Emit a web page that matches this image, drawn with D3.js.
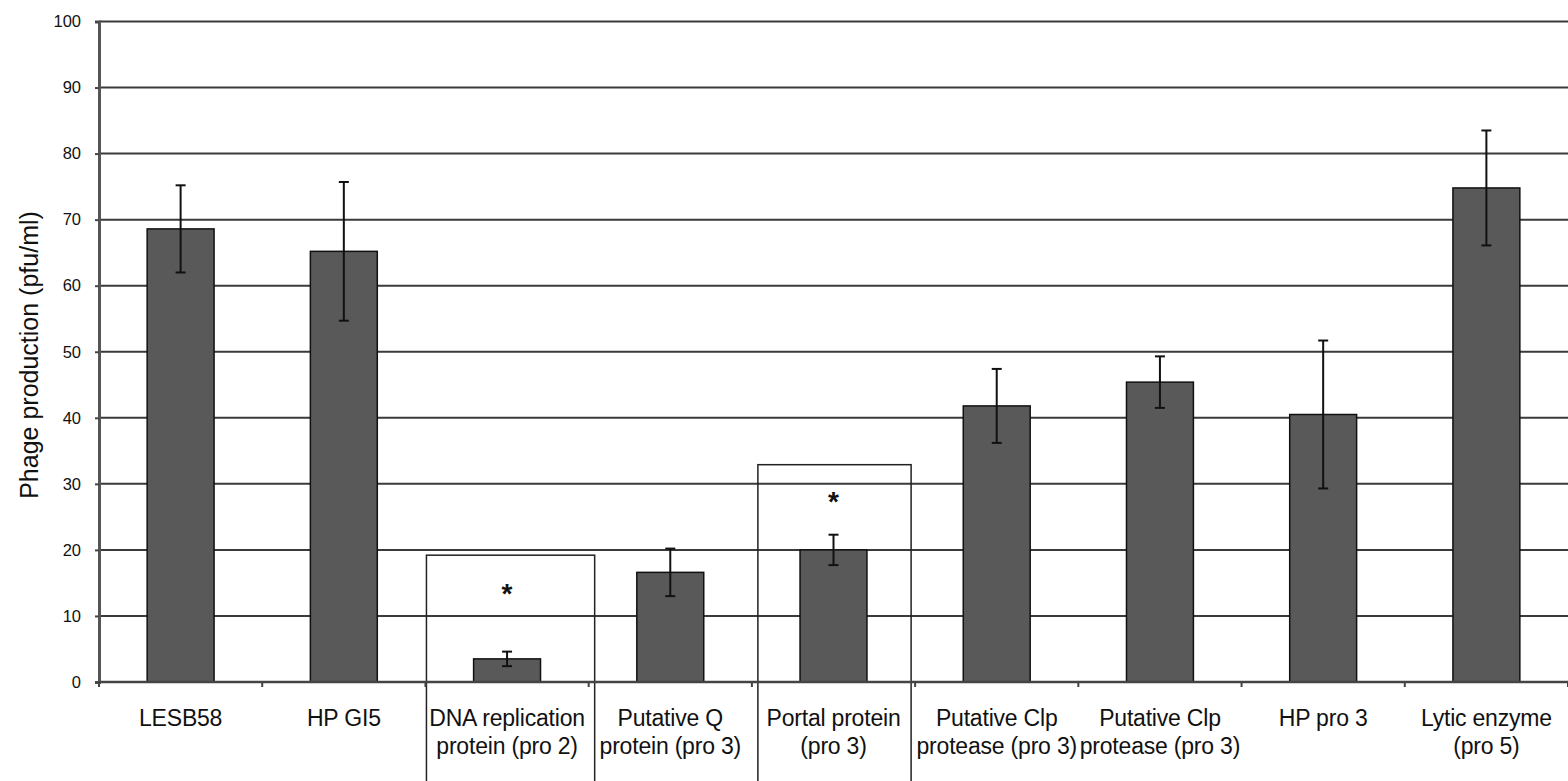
<!DOCTYPE html>
<html lang="en">
    <head>
        <meta charset="utf-8">
        <title>phage production</title>
        <script type="text/javascript" src="https://cdn.jsdelivr.net/npm/d3@7/dist/d3.min.js"></script>
        <style>
            body { margin: 0; background: #fff; }
            text { font-family: "Liberation Sans", Arial, sans-serif; fill: #111; }
        </style>
    </head>
    <body>
        <script type="text/javascript">
            // data
            var categories = ["LESB58", "HP GI5", "DNA replication|protein (pro 2)", "Putative Q|protein (pro 3)",
                              "Portal protein|(pro 3)", "Putative Clp|protease (pro 3)", "Putative Clp|protease (pro 3)",
                              "HP pro 3", "Lytic enzyme|(pro 5)"];
            var values = [68.6, 65.2, 3.5, 16.6, 20.0, 41.8, 45.4, 40.5, 74.8];
            var errors = [6.6, 10.5, 1.1, 3.6, 2.3, 5.6, 3.9, 11.2, 8.7];
            var yticks = [0, 10, 20, 30, 40, 50, 60, 70, 80, 90, 100];
            // significant ones: index, box top value, star value
            var marked = [2, 4];
            var boxTops = [19.2, 32.9];
            var starAt = [14, 27.8];

            var w = 1568;
            var h = 781;
            var margin = {top: 21.5, left: 99, right: 0, bottom: 99};
            var w_domain = w - margin.left - margin.right;
            var h_domain = h - margin.top - margin.bottom;

            var svg = d3.select("body").append("svg")
                .attr("width", w)
                .attr("height", h);
            var g = svg.append("g")
                .attr("transform", "translate(" + margin.left + "," + margin.top + ")");

            var keys = categories.map(function(d, i) { return i; });
            var xscale = d3.scaleBand().domain(keys).range([0, w_domain]).paddingInner(0).paddingOuter(0);
            var yscale = d3.scaleLinear().domain([0, 100]).range([h_domain, 0]);
            var barw = xscale.bandwidth() * 0.41;

            // gridlines
            g.selectAll("line.grid")
                .data(yticks.slice(1))
                .enter().append("line")
                .attr("class", "grid")
                .attr("x1", 0).attr("x2", w_domain)
                .attr("y1", function(d) { return yscale(d); })
                .attr("y2", function(d) { return yscale(d); })
                .attr("stroke", "#3a3a3a")
                .attr("stroke-width", 2);

            // y axis
            var yaxis = d3.axisLeft(yscale).tickValues(yticks).tickSize(4).tickPadding(14);
            var ya = g.append("g").call(yaxis);
            ya.attr("font-size", 16.5).attr("font-family", "Liberation Sans, Arial, sans-serif");
            ya.select(".domain").attr("stroke", "#555").attr("stroke-width", 3);
            ya.selectAll(".tick line").attr("stroke", "#444").attr("stroke-width", 2);
            ya.selectAll(".tick text").attr("fill", "#111");

            // boxes around the significant ones
            var boxL = [1, 6];
            var boxR = [6, -4];
            g.selectAll("rect.box")
                .data(marked)
                .enter().append("rect")
                .attr("class", "box")
                .attr("x", function(d, i) { return xscale(d) + boxL[i]; })
                .attr("y", function(d, i) { return yscale(boxTops[i]); })
                .attr("width", function(d, i) { return xscale.bandwidth() - boxL[i] + boxR[i]; })
                .attr("height", 400)
                .attr("fill", "none")
                .attr("stroke", "#222")
                .attr("stroke-width", 1.5);

            // bars
            g.selectAll("rect.bar")
                .data(values)
                .enter().append("rect")
                .attr("class", "bar")
                .attr("x", function(d, i) { return xscale(i) + xscale.bandwidth() / 2 - barw / 2; })
                .attr("y", function(d) { return yscale(d); })
                .attr("width", barw)
                .attr("height", function(d) { return h_domain - yscale(d); })
                .attr("fill", "#595959")
                .attr("stroke", "#111")
                .attr("stroke-width", 1.5);

            // x axis
            var xa = g.append("g")
                .attr("transform", "translate(0," + h_domain + ")");
            xa.append("line")
                .attr("x1", 0).attr("x2", w_domain)
                .attr("stroke", "#444").attr("stroke-width", 2.5);
            xa.selectAll("line.tk")
                .data(d3.range(categories.length + 1))
                .enter().append("line")
                .attr("class", "tk")
                .attr("x1", function(d) { return d * xscale.step(); })
                .attr("x2", function(d) { return d * xscale.step(); })
                .attr("y1", 0).attr("y2", 5)
                .attr("stroke", "#444").attr("stroke-width", 2);

            var labels = xa.selectAll("text.cat")
                .data(categories)
                .enter().append("text")
                .attr("class", "cat")
                .attr("text-anchor", "middle")
                .attr("font-size", 23)
                .attr("letter-spacing", -0.2)
                .attr("transform", function(d, i) { return "translate(" + (xscale(i) + xscale.bandwidth() / 2) + ",44)"; });
            labels.selectAll("tspan")
                .data(function(d) { return d.split("|"); })
                .enter().append("tspan")
                .attr("x", 0)
                .attr("dy", function(d, i) { return i == 0 ? 0 : 28; })
                .text(function(d) { return d; });

            // error bars
            var eb = g.selectAll("g.err")
                .data(values)
                .enter().append("g")
                .attr("class", "err")
                .attr("stroke", "#111")
                .attr("stroke-width", 2);
            eb.append("line")
                .attr("x1", function(d, i) { return xscale(i) + xscale.bandwidth() / 2; })
                .attr("x2", function(d, i) { return xscale(i) + xscale.bandwidth() / 2; })
                .attr("y1", function(d, i) { return yscale(d + errors[i]); })
                .attr("y2", function(d, i) { return yscale(d - errors[i]); });
            [1, -1].forEach(function(s) {
                eb.append("line")
                    .attr("x1", function(d, i) { return xscale(i) + xscale.bandwidth() / 2 - 5; })
                    .attr("x2", function(d, i) { return xscale(i) + xscale.bandwidth() / 2 + 5; })
                    .attr("y1", function(d, i) { return yscale(d + s * errors[i]); })
                    .attr("y2", function(d, i) { return yscale(d + s * errors[i]); });
            });

            // stars
            g.selectAll("text.star")
                .data(marked)
                .enter().append("text")
                .attr("class", "star")
                .attr("text-anchor", "middle")
                .attr("font-size", 28)
                .attr("font-weight", "bold")
                .attr("x", function(d) { return xscale(d) + xscale.bandwidth() / 2; })
                .attr("y", function(d, i) { return yscale(starAt[i]) + 13; })
                .text("*");

            // y title
            svg.append("text")
                .attr("transform", "translate(38,355) rotate(-90)")
                .attr("text-anchor", "middle")
                .attr("font-size", 25)
                .text("Phage production  (pfu/ml)");
        </script>
    </body>
</html>
